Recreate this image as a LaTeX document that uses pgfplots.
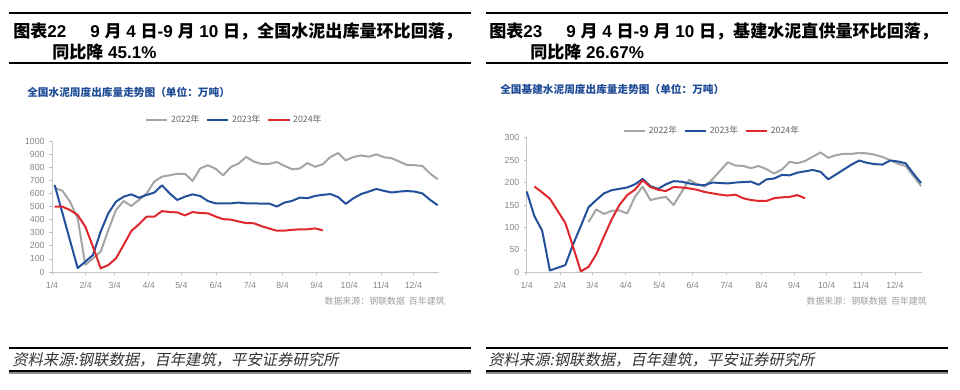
\documentclass[border=0pt]{standalone}
\usepackage{fontspec}
\setmainfont{Liberation Sans}
\newfontfamily\cjk{Noto Sans CJK SC}
\newfontfamily\cjkit[FakeSlant=0.2]{Noto Sans CJK SC}
\usepackage{pgfplots}
\usepackage{pgfplotstable}
\pgfplotsset{compat=1.18}
\definecolor{cgray}{RGB}{165,165,165}
\definecolor{cblue}{RGB}{35,80,155}
\definecolor{cred}{RGB}{222,40,45}
\definecolor{ttl}{RGB}{30,75,150}
\definecolor{tickc}{RGB}{135,135,135}
\definecolor{legc}{RGB}{100,100,100}

\pgfplotstableread{
k v
0 640
1 621
2 537
3 410
4 55
5 104
6 155
7 320
8 473
9 542
10 504
11 550
12 600
13 690
14 728
15 738
16 750
17 750
18 695
19 791
20 815
21 788
22 738
23 802
24 828
25 878
26 843
27 825
28 825
29 840
30 810
31 784
32 790
33 832
34 803
35 823
36 878
37 908
38 852
39 878
40 890
41 880
42 898
43 876
44 868
45 843
46 817
47 815
48 810
49 752
50 708
}\lgray

\pgfplotstableread{
k v
0 664
3 30
4 79
5 130
6 308
7 448
8 537
9 575
10 593
11 567
12 588
13 606
14 662
15 601
16 550
17 575
18 593
19 580
20 542
21 524
22 524
23 524
24 530
25 524
26 524
27 522
28 522
29 500
30 530
31 543
32 568
33 563
34 581
35 589
36 595
37 572
38 520
39 563
40 595
41 614
42 634
43 619
44 607
45 614
46 618
47 614
48 600
49 551
50 510
}\lblue

\pgfplotstableread{
k v
0 499
1 499
2 473
3 435
4 346
5 193
6 28
7 53
8 104
9 206
10 313
11 364
12 422
13 422
14 465
15 458
16 455
17 432
18 458
19 450
20 448
21 424
22 403
23 400
24 386
25 373
26 372
27 350
28 332
29 315
30 316
31 322
32 326
33 326
34 333
35 318
}\lred

\pgfplotstableread{
k v
8 112
9 140
10 130
11 137
12 138
13 131
14 168
15 191
16 161
17 165
18 168
19 150
21 206
22 197
23 191
24 207
26 245
27 238
28 237
29 232
30 237
31 230
32 220
33 229
34 246
35 243
36 248
38 267
39 255
40 261
41 264
42 264
43 266
44 265
45 262
46 257
47 250
48 242
49 237
50 215
51 192
}\rgray

\pgfplotstableread{
k v
0 180
1 125
2 93
3 4
4 10
5 16
6 62
7 103
8 145
9 161
10 176
11 183
12 186
13 189
14 196
15 208
16 192
17 186
18 196
19 203
20 202
21 198
22 195
23 194
24 200
25 199
26 198
27 200
28 201
29 202
30 195
31 207
32 209
33 217
34 216
35 222
36 225
37 228
38 224
39 207
40 218
41 229
42 240
43 249
44 244
45 241
46 240
47 249
48 247
49 243
50 220
51 199
}\rblue

\pgfplotstableread{
k v
1 191
2 178
3 164
4 137
5 110
6 57
7 2
8 12
9 40
10 80
11 118
12 150
13 172
14 184
15 205
16 190
17 184
18 181
19 190
20 189
21 187
22 184
23 179
24 176
25 173
26 171
27 173
28 165
29 161
30 159
31 159
32 165
33 167
34 168
35 172
36 165
}\rred

\pgfplotsset{
  mystyle/.style={
    scale only axis,
    anchor=south west,
    axis lines*=left,
    axis line style={-,draw=black!22,line width=0.6pt},
    enlargelimits=false,
    clip=false,
    tick align=outside,
    major tick length=2pt,
    tick style={draw=black!25,line width=0.5pt},
    ticklabel style={font=\fontsize{6.6}{7}\selectfont, text=tickc},
    xticklabel style={yshift=-2pt},
    /pgf/number format/assume math mode=true,
    /pgf/number format/1000 sep={},
    xticklabels={1/4,2/4,3/4,4/4,5/4,6/4,7/4,8/4,9/4,10/4,11/4,12/4},
    legend columns=3,
    legend style={draw=none, fill=none, font=\cjk\fontsize{6.6}{7}\selectfont, text=legc, inner sep=0pt,
      /tikz/every even column/.append style={column sep=3pt}},
    legend cell align=left,
    legend image code/.code={\draw[##1,line width=1.5pt] (0pt,0pt) -- (16pt,0pt);},
    every axis plot/.append style={line width=1.5pt, line join=round},
  }
}

\begin{document}
\begin{tikzpicture}[x=0.75pt,y=-0.75pt]
\path[use as bounding box, fill=white] (0,0) rectangle (960,389);

% ---------- header rules ----------
\draw[line width=1.5pt] (9,13) -- (471,13);
\draw[line width=1.5pt] (486,13) -- (948,13);
\draw[line width=1.2pt] (9,63) -- (471,63);
\draw[line width=1.2pt] (486,63) -- (948,63);

% ---------- headers ----------
\node[anchor=west, inner sep=0pt, font=\bfseries\fontsize{12.8}{14}\selectfont] at (13,31) {{\cjk 图表}22};
\node[anchor=west, inner sep=0pt, font=\bfseries\fontsize{12.8}{14}\selectfont] at (90,31) {9 {\cjk 月} 4 {\cjk 日}-9 {\cjk 月} 10 {\cjk 日，全国水泥出库量环比回落，}};
\node[anchor=west, inner sep=0pt, font=\bfseries\fontsize{12.8}{14}\selectfont] at (52,52) {{\cjk 同比降} 45.1\%};

\node[anchor=west, inner sep=0pt, font=\bfseries\fontsize{12.8}{14}\selectfont] at (489,31) {{\cjk 图表}23};
\node[anchor=west, inner sep=0pt, font=\bfseries\fontsize{12.8}{14}\selectfont] at (566,31) {9 {\cjk 月} 4 {\cjk 日}-9 {\cjk 月} 10 {\cjk 日，基建水泥直供量环比回落，}};
\node[anchor=west, inner sep=0pt, font=\bfseries\fontsize{12.8}{14}\selectfont] at (530,52) {{\cjk 同比降} 26.67\%};

% ---------- inner titles ----------
\node[anchor=west, inner sep=0pt, font=\cjk\bfseries\fontsize{8}{9}\selectfont, text=ttl] at (27,92) {全国水泥周度出库量走势图（单位：万吨）};
\node[anchor=west, inner sep=0pt, font=\cjk\bfseries\fontsize{8}{9}\selectfont, text=ttl] at (500,89) {全国基建水泥周度出库量走势图（单位：万吨）};

% ---------- sources ----------
\node[anchor=east, inner sep=0pt, font=\cjk\fontsize{6.7}{7}\selectfont, text=black!38] at (445,301) {数据来源：钢联数据\ \ 百年建筑};
\node[anchor=east, inner sep=0pt, font=\cjk\fontsize{6.7}{7}\selectfont, text=black!38] at (927,301) {数据来源：钢联数据\ \ 百年建筑};

% ---------- footers ----------
\draw[line width=1.2pt] (9,348) -- (471,348);
\draw[line width=1.2pt] (486,348) -- (948,348);
\node[anchor=west, inner sep=0pt, font=\cjkit\fontsize{11.5}{12}\selectfont, text=black!80] at (12,360) {资料来源:钢联数据，百年建筑，平安证券研究所};
\node[anchor=west, inner sep=0pt, font=\cjkit\fontsize{11.5}{12}\selectfont, text=black!80] at (488,360) {资料来源:钢联数据，百年建筑，平安证券研究所};
\draw[line width=1.5pt] (9,370.5) -- (471,370.5);
\draw[line width=1.5pt] (486,370.5) -- (948,370.5);
\draw[line width=0.8pt, black!45] (9,373) -- (471,373);
\draw[line width=0.8pt, black!45] (486,373) -- (948,373);

% ---------- left chart ----------
\begin{axis}[mystyle,
  at={(39pt,-204pt)}, width=290.25pt, height=98.25pt,
  xmin=-0.35, xmax=50.17, ymin=0, ymax=1000,
  ytick={0,100,...,1000},
  xtick={-0.35,4.05,7.84,12.28,16.55,21.04,25.48,29.75,34.19,38.46,42.6,46.82},
  legend style={at={(0.472,1.16)}, anchor=center},
]
\addplot[cgray] table[x=k,y=v] {\lgray};
\addplot[cblue] table[x=k,y=v] {\lblue};
\addplot[cred] table[x=k,y=v] {\lred};
\legend{2022年,2023年,2024年}
\end{axis}

% ---------- right chart ----------
\begin{axis}[mystyle,
  at={(395pt,-204.2pt)}, width=296.25pt, height=100.95pt,
  xmin=0, xmax=51.08, ymin=0, ymax=300,
  ytick={0,50,...,300},
  xtick={0,4.31,8.49,12.8,17.16,21.47,25.86,30.39,34.6,38.79,43.23,47.63},
  legend style={at={(0.47,1.05)}, anchor=center},
]
\addplot[cgray] table[x=k,y=v] {\rgray};
\addplot[cblue] table[x=k,y=v] {\rblue};
\addplot[cred] table[x=k,y=v] {\rred};
\legend{2022年,2023年,2024年}
\end{axis}
\end{tikzpicture}
\end{document}
